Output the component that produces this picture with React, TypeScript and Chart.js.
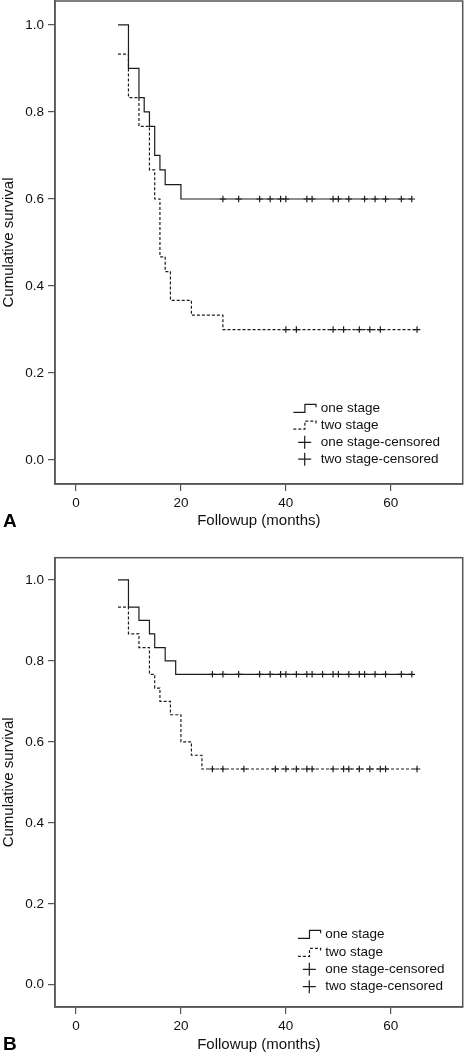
import React, { useEffect, useRef } from 'react';
import { Chart, registerables } from 'chart.js';

Chart.register(...registerables);

// ---------- data ----------
const xTickValues = [0, 20, 40, 60];
const yTickValues = [0, 0.2, 0.4, 0.6, 0.8, 1.0];
const legendLabels = ['one stage', 'two stage', 'one stage-censored', 'two stage-censored'];
const xTitle = 'Followup (months)';
const yTitle = 'Cumulative survival';

// Panel A
const timesA1 = [8, 10, 12, 13, 14, 15, 16, 17, 20, 64];
const survA1 = [1.0, 0.9, 0.833, 0.8, 0.767, 0.7, 0.667, 0.633, 0.6, 0.6];
const censA1 = [28, 31, 35, 37, 39, 40, 44, 45, 49, 50, 52, 55, 57, 59, 62, 64];

const timesA2 = [8, 10, 12, 14, 15, 16, 17, 18, 22, 28, 65];
const survA2 = [0.933, 0.833, 0.767, 0.667, 0.6, 0.467, 0.433, 0.367, 0.333, 0.3, 0.3];
const censA2 = [40, 42, 49, 51, 54, 56, 58, 65];

// Panel B
const timesB1 = [8, 10, 12, 14, 15, 17, 19, 64];
const survB1 = [1.0, 0.933, 0.9, 0.867, 0.833, 0.8, 0.767, 0.767];
const censB1 = [26, 28, 31, 35, 37, 39, 40, 42, 44, 45, 47, 49, 50, 52, 54, 55, 57, 59, 62, 64];

const timesB2 = [8, 10, 12, 14, 15, 16, 18, 20, 22, 24, 65];
const survB2 = [0.933, 0.867, 0.833, 0.767, 0.733, 0.7, 0.667, 0.6, 0.567, 0.533, 0.533];
const censB2 = [26, 28, 32, 38, 40, 42, 44, 45, 49, 51, 52, 54, 56, 58, 59, 65];

// ---------- styles ----------
const FONT = "'Liberation Sans', Arial, Helvetica, sans-serif";
const LINE = '#1c1c1c';
const FRAME = '#555555';
const DASH = [3, 2];

const stepPoints = (t: number[], s: number[]) => t.map((x, i) => ({ x, y: s[i] }));
const censorPoints = (t: number[], s: number[]) => t.map((x) => ({ x, y: s[s.length - 1] }));

const decorPlugin = {
  id: 'kmDecor',
  beforeDatasetsDraw(chart: any) {
    const { ctx, chartArea } = chart;
    ctx.save();
    ctx.strokeStyle = FRAME;
    ctx.lineWidth = 1.5;
    ctx.strokeRect(chartArea.left, chartArea.top, chartArea.right - chartArea.left, chartArea.bottom - chartArea.top);
    ctx.restore();
  },
  afterDraw(chart: any, _args: any, opts: any) {
    const { ctx } = chart;
    const tx = opts.textX;
    const rows = opts.rows;
    ctx.save();
    // panel letter
    ctx.fillStyle = '#000';
    ctx.font = `bold 19px ${FONT}`;
    ctx.textAlign = 'left';
    ctx.textBaseline = 'alphabetic';
    ctx.fillText(opts.letter, 3, opts.letterY);

    // legend symbols
    ctx.strokeStyle = LINE;
    ctx.lineWidth = 1.2;
    for (let i = 0; i < 2; i++) {
      const y = rows[i];
      ctx.setLineDash(i === 1 ? DASH : []);
      ctx.beginPath();
      ctx.moveTo(tx - 27.4, y + 4);
      ctx.lineTo(tx - 15.8, y + 4);
      ctx.lineTo(tx - 15.8, y - 4);
      ctx.lineTo(tx - 4.7, y - 4);
      ctx.lineTo(tx - 4.7, y - 1);
      ctx.stroke();
    }
    ctx.setLineDash([]);
    for (let i = 2; i < 4; i++) {
      const y = rows[i];
      const cx = tx - 16;
      ctx.beginPath();
      ctx.moveTo(cx - 6.5, y);
      ctx.lineTo(cx + 6.5, y);
      ctx.moveTo(cx, y - 6.5);
      ctx.lineTo(cx, y + 6.5);
      ctx.stroke();
    }
    // legend text
    ctx.fillStyle = '#111';
    ctx.font = `13.5px ${FONT}`;
    ctx.textBaseline = 'middle';
    legendLabels.forEach((lab, i) => ctx.fillText(lab, tx, rows[i]));
    ctx.restore();
  },
};

type PanelSpec = {
  height: number;
  padTop: number;
  xHeight: number;
  titleBottomPad: number;
  t1: number[]; s1: number[]; c1: number[];
  t2: number[]; s2: number[]; c2: number[];
  letter: string; letterY: number;
  textX: number; rows: number[];
};

const panels: PanelSpec[] = [
  {
    height: 530, padTop: 1, xHeight: 46, titleBottomPad: 0,
    t1: timesA1, s1: survA1, c1: censA1, t2: timesA2, s2: survA2, c2: censA2,
    letter: 'A', letterY: 527, textX: 320.7, rows: [408.3, 425.2, 442.3, 459.2],
  },
  {
    height: 526, padTop: 27.7, xHeight: 49, titleBottomPad: 2,
    t1: timesB1, s1: survB1, c1: censB1, t2: timesB2, s2: survB2, c2: censB2,
    letter: 'B', letterY: 520, textX: 325.3, rows: [404.3, 422.3, 439.3, 456.7],
  },
];

function KMPanel({ p }: { p: PanelSpec }) {
  const ref = useRef<HTMLCanvasElement | null>(null);
  useEffect(() => {
    if (!ref.current) return;
    const tickFont = { family: FONT, size: 13.5 };
    const chart = new Chart(ref.current, {
      type: 'line',
      data: {
        datasets: [
          {
            label: legendLabels[0], data: stepPoints(p.t1, p.s1), stepped: 'before',
            borderColor: LINE, borderWidth: 1.2, pointRadius: 0, pointHoverRadius: 0, fill: false,
          },
          {
            label: legendLabels[1], data: stepPoints(p.t2, p.s2), stepped: 'before',
            borderColor: LINE, borderWidth: 1.2, borderDash: DASH, pointRadius: 0, pointHoverRadius: 0, fill: false,
          },
          {
            type: 'scatter', label: legendLabels[2], data: censorPoints(p.c1, p.s1),
            pointStyle: 'cross', pointRadius: 3.3, pointHoverRadius: 3.3, borderColor: LINE, pointBorderWidth: 1.2, showLine: false,
          } as any,
          {
            type: 'scatter', label: legendLabels[3], data: censorPoints(p.c2, p.s2),
            pointStyle: 'cross', pointRadius: 3.3, pointHoverRadius: 3.3, borderColor: LINE, pointBorderWidth: 1.2, showLine: false,
          } as any,
        ],
      },
      options: {
        responsive: false,
        animation: false,
        events: [],
        layout: { autoPadding: false, padding: { top: p.padTop, right: 3.3, left: 0, bottom: 0 } },
        plugins: {
          legend: { display: false },
          tooltip: { enabled: false },
          kmDecor: { letter: p.letter, letterY: p.letterY, textX: p.textX, rows: p.rows },
        } as any,
        scales: {
          x: {
            type: 'linear',
            min: -4,
            max: 73.7,
            afterBuildTicks: (s: any) => { s.ticks = xTickValues.map((v) => ({ value: v })); },
            afterFit: (s: any) => { s.height = p.xHeight; s.paddingLeft = 0; s.paddingRight = 0; },
            ticks: { font: tickFont, color: '#111', padding: 4, maxRotation: 0, callback: (v: any) => String(v) },
            grid: { display: true, drawOnChartArea: false, drawTicks: true, tickLength: 7, color: FRAME, lineWidth: 1.2 },
            border: { display: true, color: FRAME, width: 1.5 },
            title: { display: true, text: xTitle, font: { family: FONT, size: 15 }, color: '#111', padding: { top: 0, bottom: p.titleBottomPad } },
          },
          y: {
            type: 'linear',
            min: -0.055,
            max: 1.055,
            afterBuildTicks: (s: any) => { s.ticks = yTickValues.map((v) => ({ value: v })); },
            afterFit: (s: any) => { s.width = 55; s.paddingTop = 0; s.paddingBottom = 0; },
            ticks: { font: tickFont, color: '#111', padding: 4, callback: (v: any) => Number(v).toFixed(1) },
            grid: { display: true, drawOnChartArea: false, drawTicks: true, tickLength: 7, color: FRAME, lineWidth: 1.2 },
            border: { display: true, color: FRAME, width: 1.5 },
            title: { display: true, text: yTitle, font: { family: FONT, size: 15 }, color: '#111', padding: { top: 0, bottom: 0 } },
          },
        },
      },
      plugins: [decorPlugin as any],
    } as any);
    return () => chart.destroy();
  }, [p]);
  return <canvas ref={ref} width={466} height={p.height} style={{ display: 'block' }} />;
}

export default function App() {
  return (
    <div style={{ position: 'absolute', left: 0, top: 0, width: 466, background: '#fff' }}>
      {panels.map((p) => (
        <KMPanel key={p.letter} p={p} />
      ))}
    </div>
  );
}
